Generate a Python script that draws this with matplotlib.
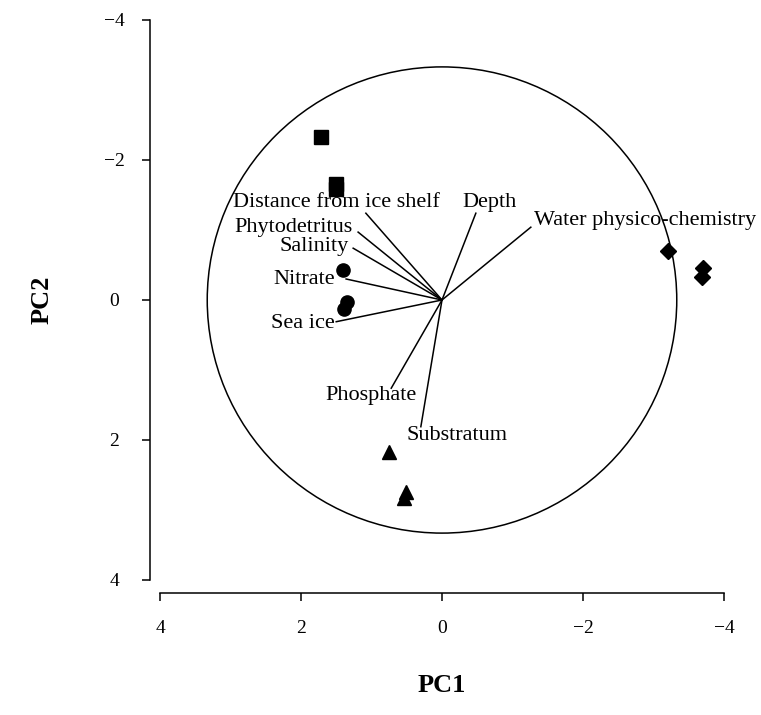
import numpy as np
import matplotlib
matplotlib.use("Agg")
import matplotlib.pyplot as plt
from matplotlib.patches import Circle

plt.rcParams['font.family'] = ['Liberation Serif', 'DejaVu Serif']

# sample scores (PC1, PC2)
square_pc1 = [1.72, 1.50, 1.50]
square_pc2 = [-2.33, -1.66, -1.59]
circle_pc1 = [1.40, 1.39, 1.35]
circle_pc2 = [-0.43, 0.13, 0.03]
triangle_pc1 = [0.75, 0.51, 0.54]
triangle_pc2 = [2.17, 2.74, 2.83]
diamond_pc1 = [-3.21, -3.70, -3.69]
diamond_pc2 = [-0.70, -0.46, -0.33]

# variable loadings (line end points)
variables = ["Distance from ice shelf", "Phytodetritus", "Salinity", "Nitrate",
             "Sea ice", "Depth", "Water physico-chemistry", "Phosphate", "Substratum"]
load_pc1 = [1.08, 1.19, 1.26, 1.36, 1.50, -0.48, -1.26, 0.72, 0.30]
load_pc2 = [-1.24, -0.97, -0.74, -0.30, 0.31, -1.24, -1.04, 1.26, 1.81]

# where each variable name sits (text centre)
label_x = [1.50, 2.11, 1.82, 1.95, 1.97, -0.67, -2.88, 1.01, -0.21]
label_y = [-1.39, -1.03, -0.76, -0.30, 0.33, -1.40, -1.14, 1.37, 1.94]

circle_radius = 3.33

fig = plt.figure(figsize=(7.61, 7.15), dpi=100)
ax = fig.add_axes([160 / 761, 1 - 580 / 715, 564 / 761, 560 / 715])

ax.add_patch(Circle((0, 0), circle_radius, fill=False, color='black', lw=1.1))

for lx, ly in zip(load_pc1, load_pc2):
    ax.plot([0, lx], [0, ly], color='black', lw=1.1)
for name, tx, ty in zip(variables, label_x, label_y):
    ax.text(tx, ty, name, ha='center', va='center', fontsize=16)

ax.plot(square_pc1, square_pc2, 's', color='black', ms=9.5, ls='none')
ax.plot(circle_pc1, circle_pc2, 'o', color='black', ms=9.5, ls='none')
ax.plot(triangle_pc1, triangle_pc2, '^', color='black', ms=10, ls='none')
ax.plot(diamond_pc1, diamond_pc2, 'D', color='black', ms=8, ls='none')

ax.set_xlim(4, -4)
ax.set_ylim(4, -4)
ax.set_xticks([4, 2, 0, -2, -4])
ax.set_yticks([-4, -2, 0, 2, 4])

for side in ['top', 'right']:
    ax.spines[side].set_visible(False)
ax.spines['left'].set_position(('outward', 7))
ax.spines['bottom'].set_position(('outward', 9.5))
for side in ['left', 'bottom']:
    ax.spines[side].set_linewidth(1.1)

ax.tick_params(axis='both', direction='out', length=6, width=1.1, labelsize=14)
ax.tick_params(axis='x', pad=13)
ax.tick_params(axis='y', pad=20)
for lab in ax.get_yticklabels():
    lab.set_horizontalalignment('center')

fig.text(42 / 761, 1 - 300 / 715, 'PC2', rotation=90, ha='center', va='center',
         fontsize=19, fontweight='bold')
fig.text(442 / 761, 1 - 685 / 715, 'PC1', ha='center', va='center',
         fontsize=19, fontweight='bold')

fig.savefig('out.png', dpi=100)
